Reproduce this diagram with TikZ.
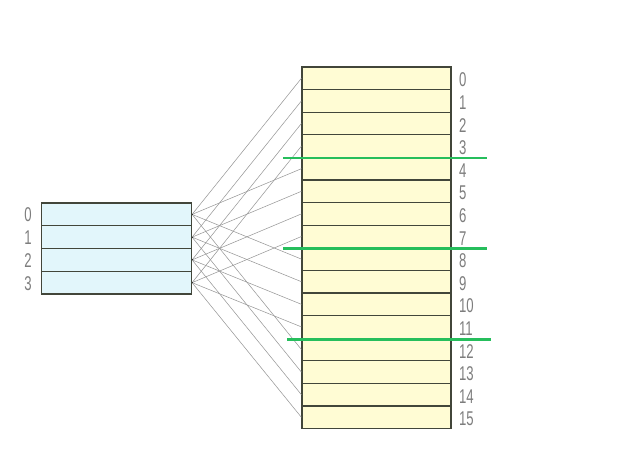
\documentclass[tikz,border=0pt]{standalone}
\usepackage{fontspec}
\setmainfont{Liberation Sans}
\usetikzlibrary{calc}

\definecolor{lcellfill}{RGB}{226,246,251}
\definecolor{rcellfill}{RGB}{255,252,212}
\definecolor{cellline}{RGB}{66,70,58}
\definecolor{cutgreen}{RGB}{38,190,92}
\definecolor{wiregray}{RGB}{150,150,150}
\definecolor{numgray}{RGB}{125,125,125}

\begin{document}
\begin{tikzpicture}[
  x=0.03cm, y=-0.03cm,
  lcell/.style={draw=cellline, fill=lcellfill, line width=1pt,
    minimum width=4.5cm, minimum height=0.682cm, inner sep=0pt},
  rcell/.style={draw=cellline, fill=rcellfill, line width=1pt,
    minimum width=4.47cm, minimum height=0.678cm, inner sep=0pt},
  wire/.style={draw=wiregray, line width=0.45pt},
  dot/.style={fill=black!80, inner sep=0.5pt},
  num/.style={text=numgray, font=\fontsize{17}{17}\selectfont, xscale=0.66, inner sep=0pt},
  cut/.style={draw=cutgreen, line width=2.4pt}
]
\useasboundingbox (0,0) rectangle (623,448);

%================================================
% LEFT BLOCK: 4 cells
%================================================
\foreach \i in {0,...,3}{
  \node[lcell] (L\i) at (116.5, 214.4+22.75*\i) {};
  \node[num] (ln\i) at (28, 215+22.75*\i) {\i};
}

%================================================
% RIGHT BLOCK: 16 cells
%================================================
\foreach \j in {0,...,15}{
  \node[rcell] (R\j) at (376.5, 78.3+22.6*\j) {};
  \node[num, anchor=west] (rn\j) at (459, 80+22.6*\j) {\j};
}

%================================================
% wires: cell i -> every cell j with j mod 4 = i
%================================================
\foreach \i in {0,...,3}{
  \foreach \k in {0,...,3}{
    \pgfmathtruncatemacro{\j}{\i+4*\k}
    \draw[wire] (L\i.east) -- (R\j.west);
  }
  \node[dot] at (L\i.east) {};
}

%================================================
% green cuts
%================================================
\coordinate (c1a) at ($(R3.south west)+(-18,0)$);
\coordinate (c1b) at ($(R3.south east)+(35,0)$);
\coordinate (c2a) at ($(R7.south west)+(-18,0)$);
\coordinate (c2b) at ($(R7.south east)+(35,0)$);
\coordinate (c3a) at ($(R11.south west)+(-14,1)$);
\coordinate (c3b) at ($(R11.south east)+(39,1)$);
\draw[cut] (c1a) -- (c1b);
\draw[cut] (c2a) -- (c2b);
\draw[cut] (c3a) -- (c3b);

\end{tikzpicture}
\end{document}
